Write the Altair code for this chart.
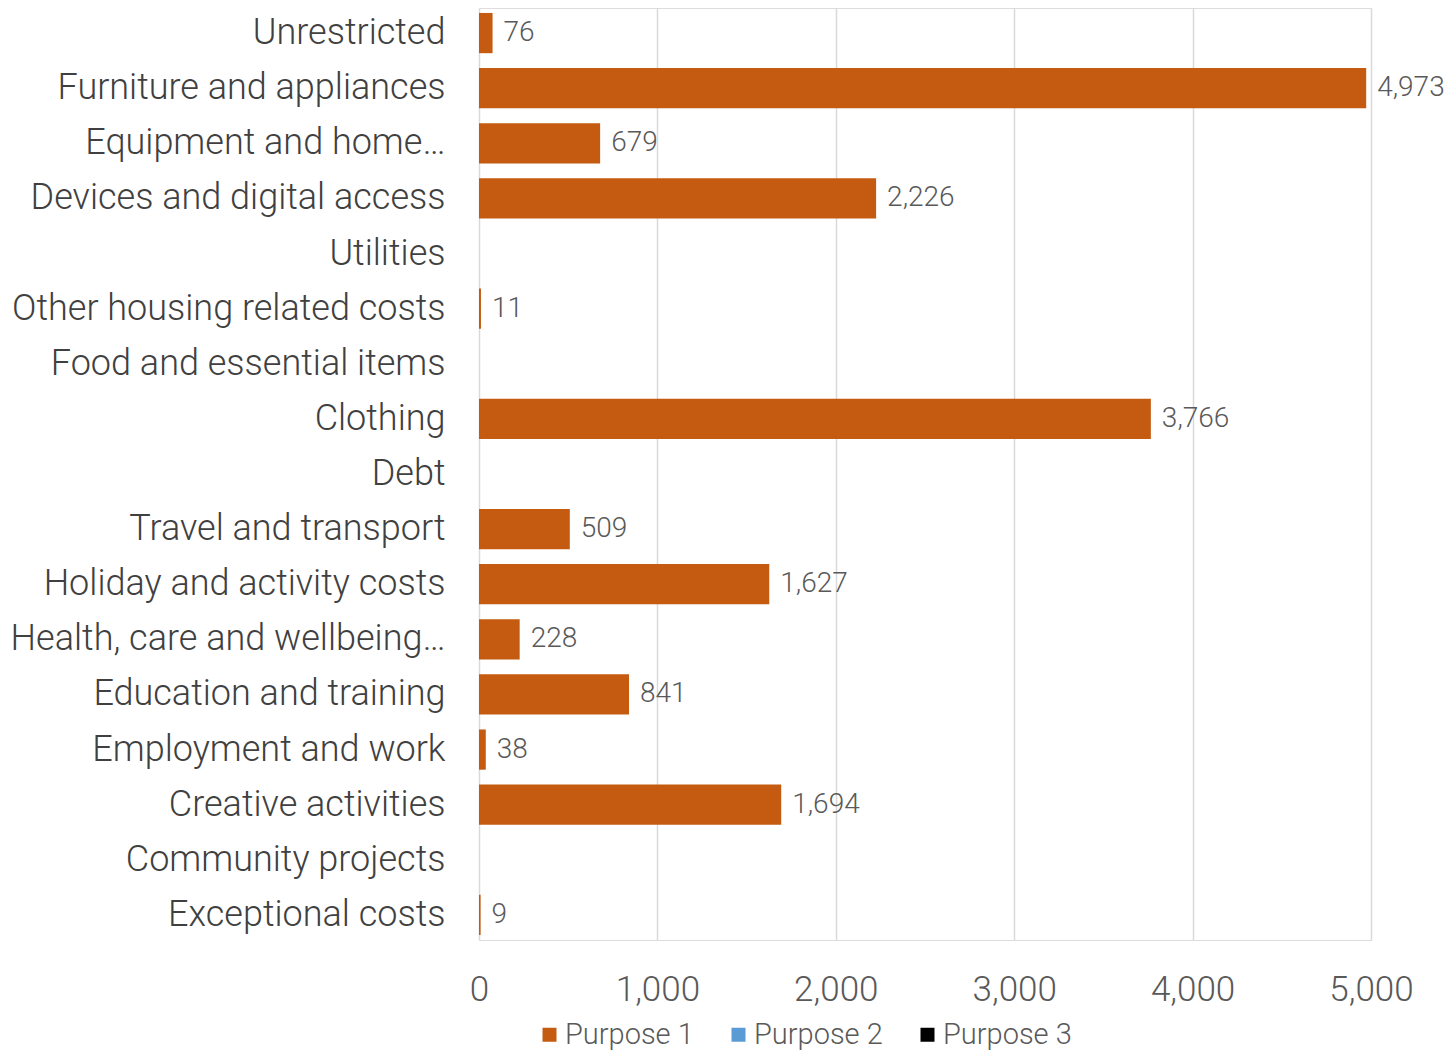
import altair as alt
import pandas as pd

categories = [
    "Unrestricted", "Furniture and appliances", "Equipment and home…",
    "Devices and digital access", "Utilities", "Other housing related costs",
    "Food and essential items", "Clothing", "Debt", "Travel and transport",
    "Holiday and activity costs", "Health, care and wellbeing…",
    "Education and training", "Employment and work", "Creative activities",
    "Community projects", "Exceptional costs",
]
purpose1 = [76, 4973, 679, 2226, None, 11, None, 3766, None, 509,
            1627, 228, 841, 38, 1694, None, 9]
series = ["Purpose 1", "Purpose 2", "Purpose 3"]
colors = ["#C55A11", "#5B9BD5", "#000000"]
x_ticks = [0, 1000, 2000, 3000, 4000, 5000]

df = pd.DataFrame({"category": categories, "value": purpose1, "series": "Purpose 1"})
df = df.dropna(subset=["value"])

FONT = "Roboto"

y_enc = alt.Y("category:N", sort=categories,
              scale=alt.Scale(domain=categories, paddingInner=0.27, paddingOuter=0.09),
              axis=alt.Axis(title=None, domain=False, ticks=False, labelPadding=34,
                            labelFontSize=36, labelColor="#404040", labelFont=FONT,
                            labelFontWeight=300, labelLimit=600))
x_enc = alt.X("value:Q", scale=alt.Scale(domain=[0, 5000], nice=False),
              axis=alt.Axis(title=None, values=x_ticks, format=",d", domain=False,
                            ticks=False, grid=True, gridColor="#d9d9d9", gridWidth=1.5,
                            labelFlush=False, labelOverlap=False,
                            labelPadding=32, labelFontSize=35, labelColor="#595959",
                            labelFont=FONT, labelFontWeight=300))

bars = alt.Chart(df).mark_bar().encode(
    x=x_enc, y=y_enc,
    color=alt.Color("series:N", scale=alt.Scale(domain=series, range=colors),
                    legend=alt.Legend(title=None, orient="none", direction="horizontal",
                                      legendX=56, legendY=1012, symbolType="square",
                                      symbolSize=196, symbolStrokeWidth=0,
                                      labelFontSize=29, labelColor="#595959",
                                      labelFont=FONT, labelFontWeight=300,
                                      columnPadding=30, labelOffset=1, padding=0)),
)

labels = alt.Chart(df).mark_text(align="left", baseline="middle", dx=11,
                                 fontSize=28, color="#595959", font=FONT,
                                 fontWeight=300).encode(
    x="value:Q", y=alt.Y("category:N", sort=categories),
    text=alt.Text("value:Q", format=",d"),
)

chart = (bars + labels).properties(
    width=892, height=932,
    autosize=alt.AutoSizeParams(type="none"),
    padding={"left": 471, "top": 0, "right": 73, "bottom": 113},
).configure_view(stroke=None).configure(background="white")

chart.save("out.html", embed_options={"renderer": "svg", "actions": False})
